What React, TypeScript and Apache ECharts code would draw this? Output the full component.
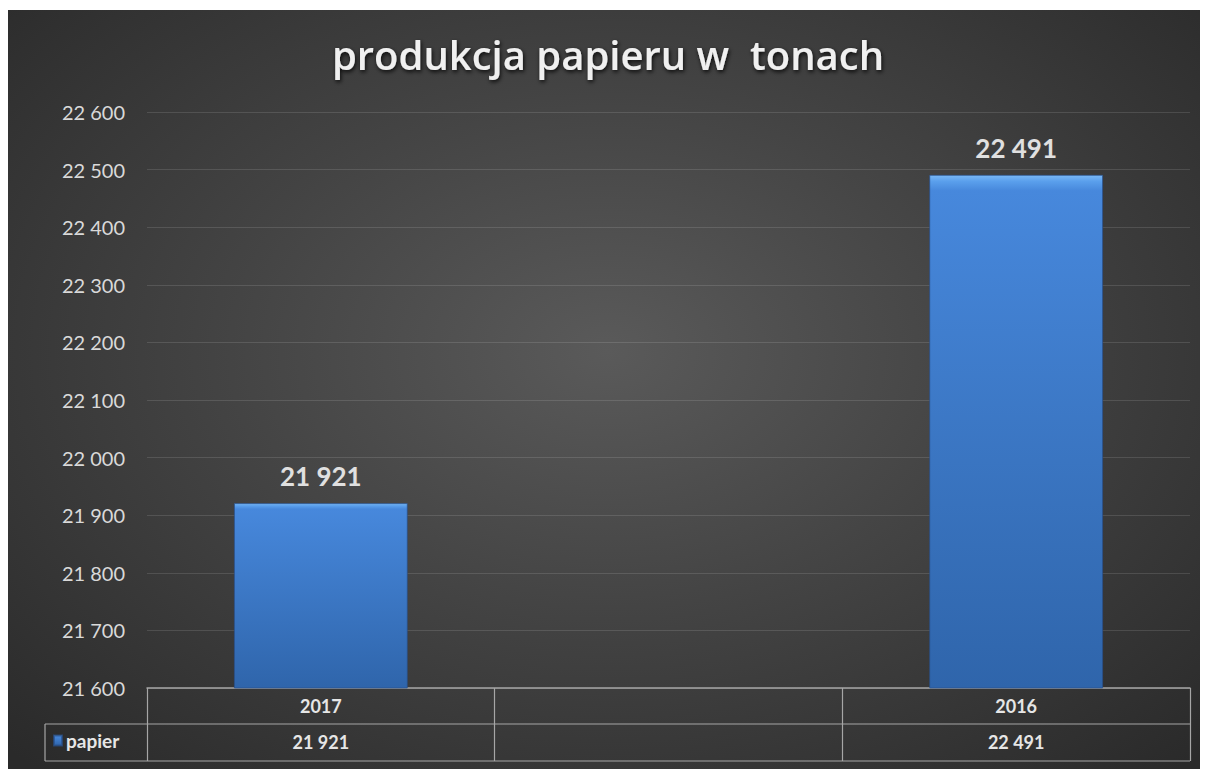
import React, { useEffect, useRef } from "react";
import * as echarts from "echarts";

const titleText = "produkcja papieru w  tonach";
const seriesName = "papier";
const categories = ["2017", "", "2016"];
const values: (number | null)[] = [21921, null, 22491];
const yMin = 21600;
const yMax = 22600;
const yStep = 100;

const fmt = (v: number) => {
  const s = String(Math.round(v));
  return s.replace(/\B(?=(\d{3})+(?!\d))/g, " ");
};

const FONT = "Lato, 'Open Sans', sans-serif";
const LINE = "#a6a6a6";

export default function App() {
  const ref = useRef<HTMLDivElement>(null);
  useEffect(() => {
    if (!ref.current) return;
    const chart = echarts.init(ref.current, null, { renderer: "svg" });
    const W = 1200;
    const tableLeft = 37;
    const tableRight = W - 18;
    chart.setOption({
      animation: false,
      title: {
        text: titleText,
        left: "center",
        top: 19,
        textStyle: {
          fontFamily: "'Open Sans', sans-serif",
          fontWeight: 600,
          fontSize: 40,
          color: "#f0f0f0",
          textShadowColor: "rgba(0,0,0,0.85)",
          textShadowBlur: 4,
          textShadowOffsetX: 1,
          textShadowOffsetY: 2,
        },
      },
      legend: {
        data: [seriesName],
        left: 45,
        top: 721,
        padding: 0,
        itemWidth: 8,
        itemHeight: 10,
        itemGap: 4,
        icon: "rect",
        textStyle: {
          fontFamily: FONT,
          fontWeight: "bold",
          fontSize: 19,
          color: "#e6e6e6",
          padding: [0, 0, 0, -1],
        },
      },
      grid: { left: 139, right: 18, top: 102, bottom: 81, containLabel: false },
      xAxis: {
        type: "category",
        data: categories,
        boundaryGap: true,
        axisLine: { show: true, lineStyle: { color: LINE, width: 1.5 } },
        axisTick: { show: true, length: 73, lineStyle: { color: LINE, width: 1.2 } },
        axisLabel: {
          margin: 0,
          interval: 0,
          formatter: (_v: string, i: number) => {
            const c = categories[i];
            const v = values[i];
            return `{c|${c || " "}}\n{v|${v == null ? " " : fmt(v)}}`;
          },
          rich: {
            c: {
              fontFamily: FONT,
              fontWeight: "bold",
              fontSize: 18,
              color: "#e6e6e6",
              lineHeight: 36,
              height: 36,
            },
            v: {
              fontFamily: FONT,
              fontWeight: "bold",
              fontSize: 18,
              color: "#e6e6e6",
              lineHeight: 36,
              height: 36,
            },
          },
        },
      },
      yAxis: {
        type: "value",
        min: yMin,
        max: yMax,
        interval: yStep,
        axisLine: { show: false },
        axisTick: { show: false },
        axisLabel: {
          margin: 22,
          fontFamily: FONT,
          fontSize: 20,
          color: "#d9d9d9",
          formatter: (v: number) => fmt(v),
        },
        splitLine: { lineStyle: { color: "rgba(255,255,255,0.12)", width: 1.2 } },
      },
      graphic: [
        {
          type: "line",
          shape: { x1: tableLeft, y1: 714, x2: tableRight, y2: 714 },
          style: { stroke: LINE, lineWidth: 1.2 },
        },
        {
          type: "line",
          shape: { x1: tableLeft, y1: 751, x2: tableRight, y2: 751 },
          style: { stroke: LINE, lineWidth: 1.2 },
        },
        {
          type: "line",
          shape: { x1: tableLeft, y1: 714, x2: tableLeft, y2: 751 },
          style: { stroke: LINE, lineWidth: 1.2 },
        },
      ],
      series: [
        {
          name: seriesName,
          type: "bar",
          data: values.map((v) => (v == null ? "-" : v)),
          barWidth: "50%",
          itemStyle: {
            color: new echarts.graphic.LinearGradient(0, 0, 0, 1, [
              { offset: 0, color: "#7ab8f5" },
              { offset: 0.012, color: "#5a9fec" },
              { offset: 0.03, color: "#4788dc" },
              { offset: 1, color: "#2f65ab" },
            ]),
            borderColor: "rgba(40,80,140,0.7)",
            borderWidth: 1,
          },
          label: {
            show: true,
            position: "top",
            distance: 14,
            fontFamily: FONT,
            fontWeight: "bold",
            fontSize: 26,
            color: "#e0e0e0",
            formatter: (p: any) => fmt(p.value),
          },
        },
      ],
    });
    return () => chart.dispose();
  }, []);
  return (
    <div
      ref={ref}
      style={{
        width: 1200,
        height: 759,
        marginTop: 2,
        background:
          "radial-gradient(ellipse 70% 75% at 50% 45%, #5a5a5a 0%, #444 45%, #2a2a2a 100%)",
      }}
    />
  );
}
